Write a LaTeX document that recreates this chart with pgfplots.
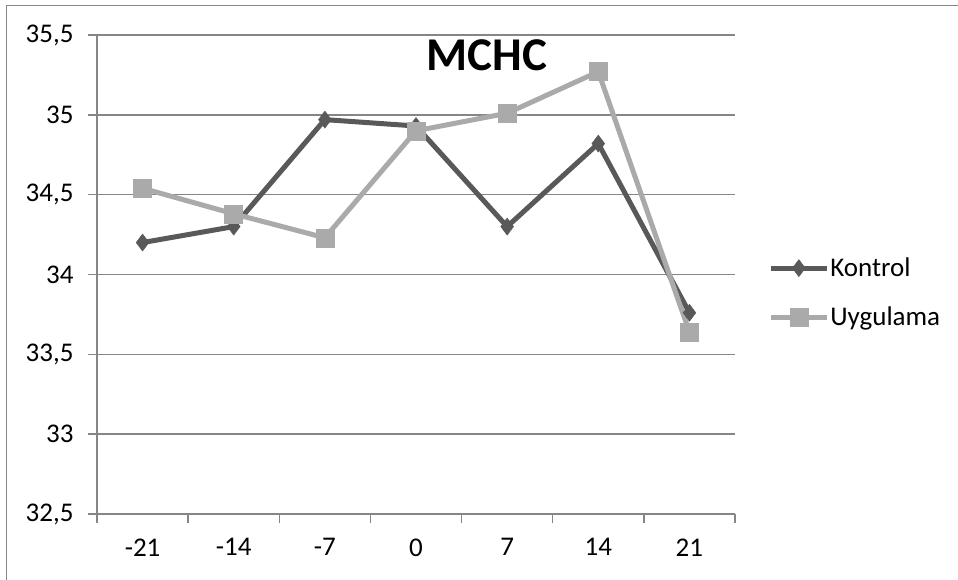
\documentclass[border=0pt]{standalone}
\usepackage{pgfplots}
\pgfplotsset{compat=1.18}
\usepackage{fontspec}
\setmainfont{Carlito}
\definecolor{kon}{RGB}{89,89,89}
\definecolor{uyg}{RGB}{170,170,170}
\definecolor{gridc}{RGB}{134,134,134}
\begin{document}
\begin{tikzpicture}[x=1pt,y=1pt]
\useasboundingbox (0,0) rectangle (958,579);
\draw[gridc, line width=1.5pt] (6.5,-20) -- (6.5,573.5) -- (1000,573.5);
\begin{axis}[
  at={(97pt,65pt)}, anchor=south west,
  scale only axis, width=638pt, height=479pt,
  xmin=-0.5, xmax=6.5, ymin=32.5, ymax=35.5,
  xtick={-0.5,0.5,1.5,2.5,3.5,4.5,5.5,6.5},
  x tick label as interval,
  xticklabels={-21,-14,-7,0,7,14,21},
  ytick={32.5,33,33.5,34,34.5,35,35.5},
  axis x line*=bottom, axis y line*=left,
  axis line style={gridc, line width=1.5pt, -},
  ymajorgrids, grid style={gridc, line width=1.5pt},
  tick align=outside, major tick length=9pt,
  tick style={gridc, line width=1.5pt},
  ticklabel style={font=\fontsize{27}{32}\selectfont, text=black},
  yticklabel style={xshift=-11pt, /pgf/number format/.cd, use comma, fixed, precision=1},
  xticklabel style={yshift=-12pt},
  /pgf/number format/assume math mode=true,
  legend style={at={(1.052,0.537)}, anchor=north west, draw=none, fill=none,
    font=\fontsize{27}{32}\selectfont, row sep=27pt, inner sep=0pt,
    nodes={inner sep=1pt}},
  legend cell align=left,
  legend image code/.code={\draw[#1, mark repeat=2, mark phase=2] plot coordinates {(0pt,0pt)(28pt,0pt)(56pt,0pt)};},
]
\addplot[kon, line width=5pt, mark=diamond*, mark size=8.5pt, mark options={solid, fill=kon, line width=0.5pt}]
  table {
x y
0 34.20
1 34.30
2 34.97
3 34.93
4 34.30
5 34.82
6 33.76
};
\addlegendentry{Kontrol}
\addplot[uyg, line width=5pt, mark=square*, mark size=9pt, mark options={solid, fill=uyg, line width=0.5pt}]
  table {
x y
0 34.54
1 34.38
2 34.23
3 34.90
4 35.01
5 35.27
6 33.64
};
\addlegendentry{Uygulama}
\node[font=\fontsize{47}{54}\selectfont\bfseries] at (rel axis cs:0.611,0.958) {MCHC};
\end{axis}
\end{tikzpicture}
\end{document}
